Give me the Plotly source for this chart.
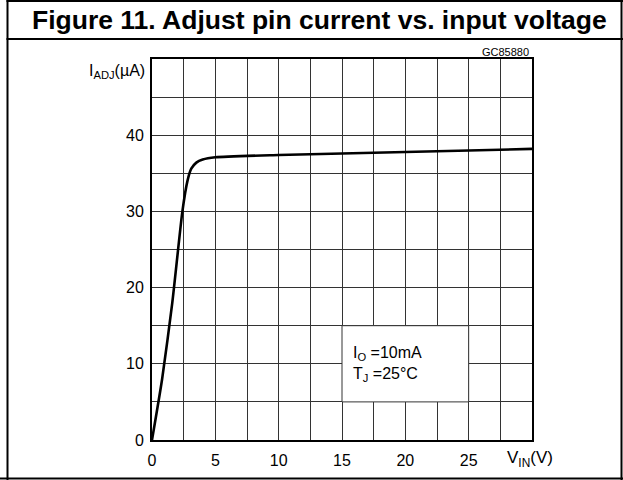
import plotly.graph_objects as go

# Data
vin = [0, 0.8, 1.6, 2.4, 2.8, 3.1, 3.5, 4.0, 5.0, 10, 15, 20, 25, 30]
iadj = [0, 8, 18, 30, 34, 35.6, 36.4, 36.8, 37.1, 37.4, 37.6, 37.8, 38.0, 38.2]

x_tickvals = [0, 2.5, 5, 7.5, 10, 12.5, 15, 17.5, 20, 22.5, 25, 27.5, 30]
x_ticktext = ["0", "", "5", "", "10", "", "15", "", "20", "", "25", "", ""]
y_tickvals = [0, 5, 10, 15, 20, 25, 30, 35, 40, 45, 50]
y_ticktext = ["0", "", "10", "", "20", "", "30", "", "40", "", ""]

W, H = 623, 480
L, R, T, B = 152, 532, 59, 440

def px(x):
    return (x - L) / (R - L)

def py(y):
    return (B - y) / (B - T)

FONT = "Liberation Sans, Arial, sans-serif"
GRID = "#333333"

fig = go.Figure()
fig.add_trace(go.Scatter(x=vin, y=iadj, mode="lines",
                         line=dict(color="black", width=2.6, shape="spline", smoothing=0.6),
                         hoverinfo="skip", showlegend=False))

fig.update_layout(
    width=W, height=H,
    margin=dict(l=L, r=W - R, t=T, b=H - B),
    paper_bgcolor="white", plot_bgcolor="white",
    font=dict(family=FONT, size=15, color="black"),
    showlegend=False,
    xaxis=dict(range=[0, 30], tickmode="array", tickvals=x_tickvals, ticktext=x_ticktext,
               showgrid=True, gridcolor=GRID, gridwidth=1, zeroline=False,
               showline=True, linecolor="black", linewidth=2, mirror=True,
               ticks="", tickfont=dict(size=16, family=FONT), ticklabelstandoff=5),
    yaxis=dict(range=[0, 50], tickmode="array", tickvals=y_tickvals, ticktext=y_ticktext,
               showgrid=True, gridcolor=GRID, gridwidth=1, zeroline=False,
               showline=True, linecolor="black", linewidth=2, mirror=True,
               ticks="", tickfont=dict(size=16, family=FONT), ticklabelstandoff=3),
)

shapes = []
# white box behind the condition text
shapes.append(dict(type="rect", xref="x", yref="y", x0=15, x1=25, y0=5, y1=15,
                   fillcolor="white", line=dict(color=GRID, width=1), layer="above"))
# outer frame
shapes.append(dict(type="line", xref="paper", yref="paper", x0=px(7.5), x1=px(7.5), y0=py(0), y1=py(480),
                   line=dict(color="black", width=2)))
shapes.append(dict(type="line", xref="paper", yref="paper", x0=px(621.5), x1=px(621.5), y0=py(0), y1=py(480),
                   line=dict(color="black", width=2)))
shapes.append(dict(type="line", xref="paper", yref="paper", x0=px(6.5), x1=px(623), y0=py(1), y1=py(1),
                   line=dict(color="black", width=2)))
shapes.append(dict(type="line", xref="paper", yref="paper", x0=px(0), x1=px(623), y0=py(478.5), y1=py(478.5),
                   line=dict(color="black", width=2)))
shapes.append(dict(type="line", xref="paper", yref="paper", x0=px(6.5), x1=px(623), y0=py(39), y1=py(39),
                   line=dict(color="black", width=2)))
fig.update_layout(shapes=shapes)

ann = []
ann.append(dict(text="<b>Figure 11. Adjust pin current vs. input voltage</b>", xref="paper", yref="paper",
                x=px(319), y=py(20), xanchor="center", yanchor="middle", showarrow=False,
                font=dict(size=26.5, family=FONT, color="black")))
ann.append(dict(text="GC85880", xref="paper", yref="paper", x=px(531), y=py(52),
                xanchor="right", yanchor="middle", showarrow=False,
                font=dict(size=11, family=FONT, color="black")))
ann.append(dict(text="I<sub>ADJ</sub>(µA)", xref="paper", yref="paper", x=px(147), y=py(71),
                xanchor="right", yanchor="middle", showarrow=False,
                font=dict(size=16, family=FONT, color="black")))
ann.append(dict(text="V<sub>IN</sub>(V)", xref="paper", yref="paper", x=px(505), y=py(459),
                xanchor="left", yanchor="middle", showarrow=False,
                font=dict(size=17, family=FONT, color="black")))
ann.append(dict(text="I<sub>O</sub> =10mA<br>T<sub>J</sub> =25°C", xref="x", yref="y", x=15.7, y=10,
                xanchor="left", yanchor="middle", showarrow=False, align="left",
                font=dict(size=16, family=FONT, color="black")))
fig.update_layout(annotations=ann)

fig.write_html("out.html", config={"displayModeBar": False},
               post_script="document.body.style.margin='0';document.body.style.overflow='hidden';")
